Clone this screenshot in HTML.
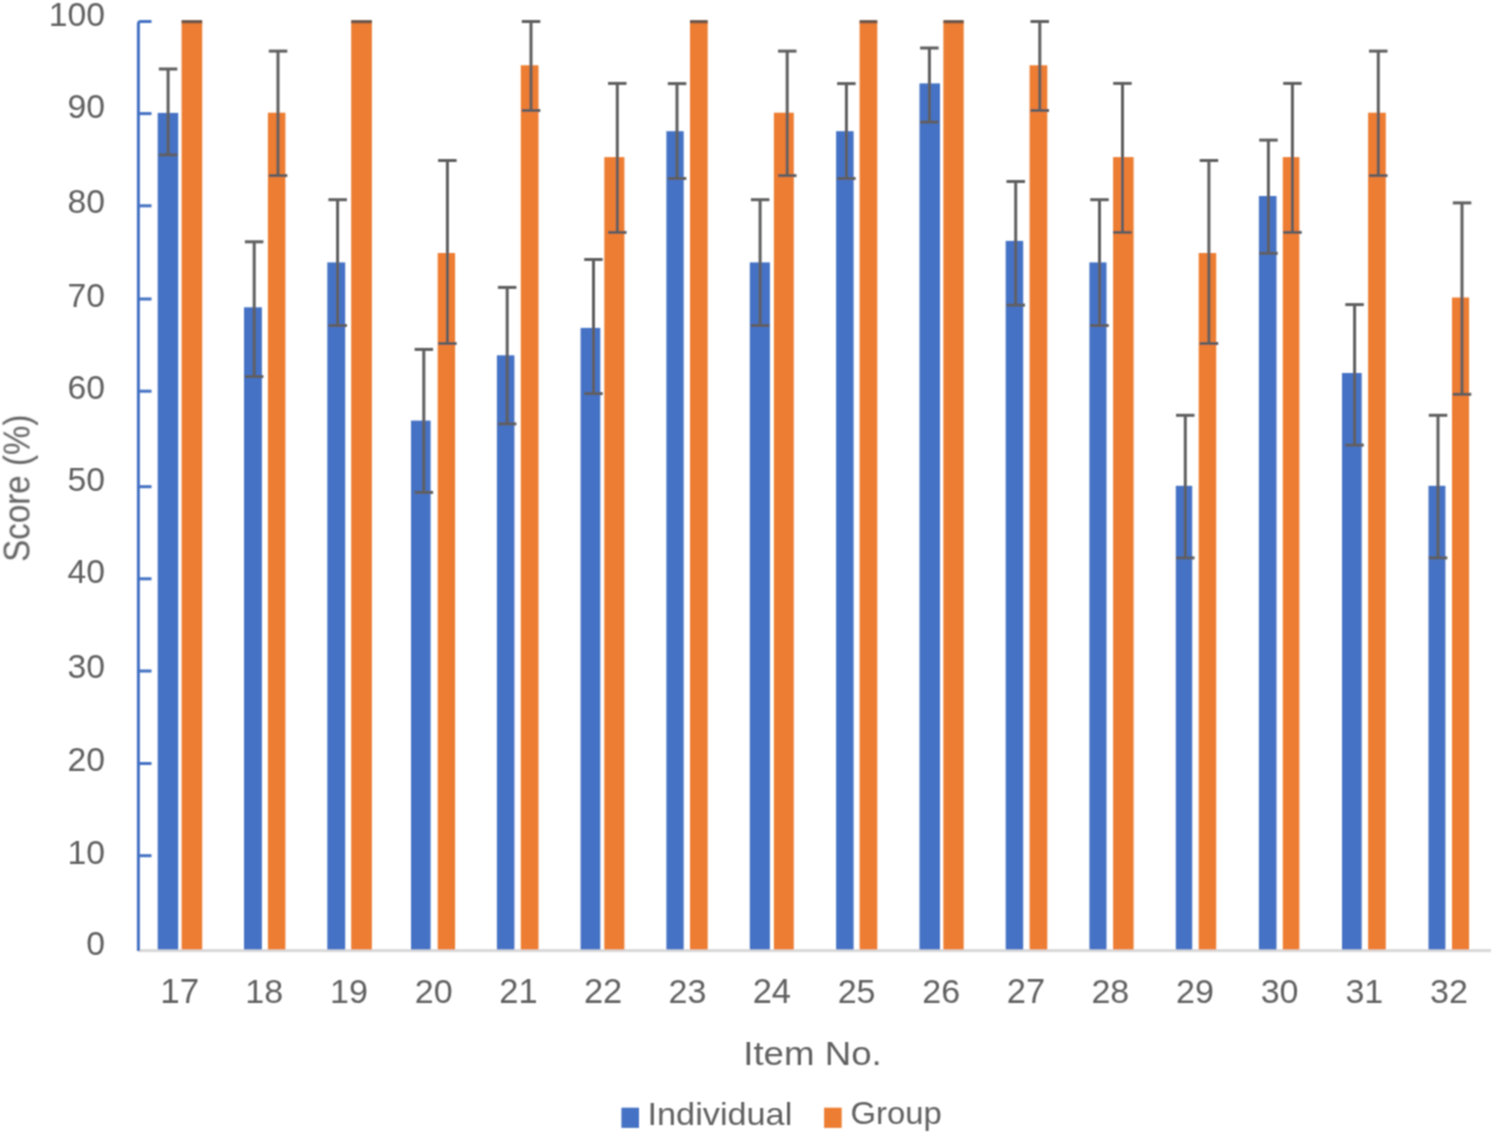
<!DOCTYPE html><html><head><meta charset="utf-8"><style>
html,body{margin:0;padding:0;background:#fff;width:1494px;height:1133px;overflow:hidden}
svg{display:block}text{font-family:"Liberation Sans",sans-serif;fill:#616161}
</style></head><body>
<svg width="1494" height="1133" viewBox="0 0 1494 1133">
<rect width="1494" height="1133" fill="#fff"/>
<defs><filter id="fb" x="-2%" y="-2%" width="104%" height="104%"><feConvolveMatrix order="3" kernelMatrix="1 2 1 2 4 2 1 2 1" divisor="16" edgeMode="none"/></filter><filter id="ft" x="-5%" y="-5%" width="110%" height="110%"><feConvolveMatrix order="3" kernelMatrix="1 2 1 2 4 2 1 2 1" divisor="16" edgeMode="none"/></filter></defs>
<g filter="url(#fb)">
<rect x="138" y="949.1" width="1353" height="3" fill="#D9D9D9"/>
<rect x="157.7" y="112.9" width="20.5" height="836.6" fill="#4472C4"/>
<rect x="181.6" y="21.5" width="20.6" height="928.0" fill="#ED7D31"/>
<rect x="244.0" y="307.3" width="17.9" height="642.2" fill="#4472C4"/>
<rect x="267.9" y="112.7" width="17.5" height="836.8" fill="#ED7D31"/>
<rect x="327.3" y="262.4" width="17.9" height="687.1" fill="#4472C4"/>
<rect x="351.2" y="21.5" width="20.7" height="928.0" fill="#ED7D31"/>
<rect x="411.0" y="420.6" width="19.6" height="528.9" fill="#4472C4"/>
<rect x="437.7" y="253.0" width="17.4" height="696.5" fill="#ED7D31"/>
<rect x="496.9" y="355.3" width="17.5" height="594.2" fill="#4472C4"/>
<rect x="520.8" y="65.3" width="17.7" height="884.2" fill="#ED7D31"/>
<rect x="580.6" y="327.9" width="19.7" height="621.6" fill="#4472C4"/>
<rect x="604.3" y="157.1" width="20.1" height="792.4" fill="#ED7D31"/>
<rect x="666.4" y="131.2" width="17.3" height="818.3" fill="#4472C4"/>
<rect x="690.0" y="21.5" width="17.7" height="928.0" fill="#ED7D31"/>
<rect x="749.8" y="262.4" width="20.1" height="687.1" fill="#4472C4"/>
<rect x="773.9" y="112.7" width="19.9" height="836.8" fill="#ED7D31"/>
<rect x="836.1" y="131.2" width="17.5" height="818.3" fill="#4472C4"/>
<rect x="859.6" y="21.5" width="17.7" height="928.0" fill="#ED7D31"/>
<rect x="919.5" y="83.4" width="20.5" height="866.1" fill="#4472C4"/>
<rect x="943.4" y="21.5" width="20.3" height="928.0" fill="#ED7D31"/>
<rect x="1005.7" y="240.9" width="17.5" height="708.6" fill="#4472C4"/>
<rect x="1029.6" y="65.3" width="17.7" height="884.2" fill="#ED7D31"/>
<rect x="1089.4" y="262.4" width="17.1" height="687.1" fill="#4472C4"/>
<rect x="1113.1" y="157.1" width="20.5" height="792.4" fill="#ED7D31"/>
<rect x="1175.8" y="485.8" width="16.4" height="463.7" fill="#4472C4"/>
<rect x="1198.7" y="253.0" width="17.5" height="696.5" fill="#ED7D31"/>
<rect x="1258.9" y="196.0" width="17.6" height="753.5" fill="#4472C4"/>
<rect x="1282.8" y="157.1" width="16.6" height="792.4" fill="#ED7D31"/>
<rect x="1342.0" y="373.0" width="19.7" height="576.5" fill="#4472C4"/>
<rect x="1368.1" y="112.7" width="17.7" height="836.8" fill="#ED7D31"/>
<rect x="1428.5" y="485.8" width="16.9" height="463.7" fill="#4472C4"/>
<rect x="1452.0" y="297.5" width="17.1" height="652.0" fill="#ED7D31"/>
<rect x="166.6" y="69.0" width="3" height="85.9" fill="#5f5f5f"/><rect x="158.8" y="67.5" width="18.5" height="3" fill="#5f5f5f"/><rect x="158.8" y="153.4" width="18.5" height="3" fill="#5f5f5f"/>
<rect x="181.6" y="20.1" width="20.6" height="3.2" fill="#6a5446"/>
<rect x="252.7" y="241.8" width="3" height="134.8" fill="#5f5f5f"/><rect x="244.9" y="240.3" width="18.5" height="3" fill="#5f5f5f"/><rect x="244.9" y="375.1" width="18.5" height="3" fill="#5f5f5f"/>
<rect x="276.5" y="51.1" width="3" height="124.5" fill="#5f5f5f"/><rect x="268.8" y="49.6" width="18.5" height="3" fill="#5f5f5f"/><rect x="268.8" y="174.1" width="18.5" height="3" fill="#5f5f5f"/>
<rect x="336.1" y="199.7" width="3" height="125.8" fill="#5f5f5f"/><rect x="328.4" y="198.2" width="18.5" height="3" fill="#5f5f5f"/><rect x="328.4" y="324.0" width="18.5" height="3" fill="#5f5f5f"/>
<rect x="351.2" y="20.1" width="20.7" height="3.2" fill="#6a5446"/>
<rect x="422.3" y="349.4" width="3" height="143.0" fill="#5f5f5f"/><rect x="414.6" y="347.9" width="18.5" height="3" fill="#5f5f5f"/><rect x="414.6" y="490.9" width="18.5" height="3" fill="#5f5f5f"/>
<rect x="445.9" y="160.5" width="3" height="183.0" fill="#5f5f5f"/><rect x="438.1" y="159.0" width="18.5" height="3" fill="#5f5f5f"/><rect x="438.1" y="342.0" width="18.5" height="3" fill="#5f5f5f"/>
<rect x="505.7" y="287.4" width="3" height="136.5" fill="#5f5f5f"/><rect x="497.9" y="285.9" width="18.5" height="3" fill="#5f5f5f"/><rect x="497.9" y="422.4" width="18.5" height="3" fill="#5f5f5f"/>
<rect x="529.5" y="21.5" width="3" height="89.0" fill="#5f5f5f"/><rect x="521.8" y="20.0" width="18.5" height="3" fill="#5f5f5f"/><rect x="521.8" y="109.0" width="18.5" height="3" fill="#5f5f5f"/>
<rect x="592.0" y="259.5" width="3" height="134.1" fill="#5f5f5f"/><rect x="584.2" y="258.0" width="18.5" height="3" fill="#5f5f5f"/><rect x="584.2" y="392.1" width="18.5" height="3" fill="#5f5f5f"/>
<rect x="615.8" y="83.4" width="3" height="149.0" fill="#5f5f5f"/><rect x="608.0" y="81.9" width="18.5" height="3" fill="#5f5f5f"/><rect x="608.0" y="230.9" width="18.5" height="3" fill="#5f5f5f"/>
<rect x="675.5" y="83.6" width="3" height="94.9" fill="#5f5f5f"/><rect x="667.8" y="82.1" width="18.5" height="3" fill="#5f5f5f"/><rect x="667.8" y="177.0" width="18.5" height="3" fill="#5f5f5f"/>
<rect x="690.0" y="20.1" width="17.7" height="3.2" fill="#6a5446"/>
<rect x="758.6" y="199.7" width="3" height="125.8" fill="#5f5f5f"/><rect x="750.9" y="198.2" width="18.5" height="3" fill="#5f5f5f"/><rect x="750.9" y="324.0" width="18.5" height="3" fill="#5f5f5f"/>
<rect x="785.7" y="51.1" width="3" height="124.5" fill="#5f5f5f"/><rect x="778.0" y="49.6" width="18.5" height="3" fill="#5f5f5f"/><rect x="778.0" y="174.1" width="18.5" height="3" fill="#5f5f5f"/>
<rect x="844.9" y="83.6" width="3" height="94.9" fill="#5f5f5f"/><rect x="837.1" y="82.1" width="18.5" height="3" fill="#5f5f5f"/><rect x="837.1" y="177.0" width="18.5" height="3" fill="#5f5f5f"/>
<rect x="859.6" y="20.1" width="17.7" height="3.2" fill="#6a5446"/>
<rect x="927.9" y="48.0" width="3" height="74.1" fill="#5f5f5f"/><rect x="920.1" y="46.5" width="18.5" height="3" fill="#5f5f5f"/><rect x="920.1" y="120.6" width="18.5" height="3" fill="#5f5f5f"/>
<rect x="943.4" y="20.1" width="20.3" height="3.2" fill="#6a5446"/>
<rect x="1014.2" y="181.5" width="3" height="123.6" fill="#5f5f5f"/><rect x="1006.5" y="180.0" width="18.5" height="3" fill="#5f5f5f"/><rect x="1006.5" y="303.6" width="18.5" height="3" fill="#5f5f5f"/>
<rect x="1038.3" y="21.5" width="3" height="89.0" fill="#5f5f5f"/><rect x="1030.5" y="20.0" width="18.5" height="3" fill="#5f5f5f"/><rect x="1030.5" y="109.0" width="18.5" height="3" fill="#5f5f5f"/>
<rect x="1098.0" y="199.7" width="3" height="125.8" fill="#5f5f5f"/><rect x="1090.2" y="198.2" width="18.5" height="3" fill="#5f5f5f"/><rect x="1090.2" y="324.0" width="18.5" height="3" fill="#5f5f5f"/>
<rect x="1121.0" y="83.4" width="3" height="149.0" fill="#5f5f5f"/><rect x="1113.2" y="81.9" width="18.5" height="3" fill="#5f5f5f"/><rect x="1113.2" y="230.9" width="18.5" height="3" fill="#5f5f5f"/>
<rect x="1183.8" y="415.3" width="3" height="142.6" fill="#5f5f5f"/><rect x="1176.0" y="413.8" width="18.5" height="3" fill="#5f5f5f"/><rect x="1176.0" y="556.4" width="18.5" height="3" fill="#5f5f5f"/>
<rect x="1207.4" y="160.5" width="3" height="183.0" fill="#5f5f5f"/><rect x="1199.7" y="159.0" width="18.5" height="3" fill="#5f5f5f"/><rect x="1199.7" y="342.0" width="18.5" height="3" fill="#5f5f5f"/>
<rect x="1266.9" y="140.1" width="3" height="113.2" fill="#5f5f5f"/><rect x="1259.2" y="138.6" width="18.5" height="3" fill="#5f5f5f"/><rect x="1259.2" y="251.8" width="18.5" height="3" fill="#5f5f5f"/>
<rect x="1290.9" y="83.4" width="3" height="149.0" fill="#5f5f5f"/><rect x="1283.2" y="81.9" width="18.5" height="3" fill="#5f5f5f"/><rect x="1283.2" y="230.9" width="18.5" height="3" fill="#5f5f5f"/>
<rect x="1353.1" y="304.6" width="3" height="140.5" fill="#5f5f5f"/><rect x="1345.3" y="303.1" width="18.5" height="3" fill="#5f5f5f"/><rect x="1345.3" y="443.6" width="18.5" height="3" fill="#5f5f5f"/>
<rect x="1376.8" y="51.1" width="3" height="124.5" fill="#5f5f5f"/><rect x="1369.0" y="49.6" width="18.5" height="3" fill="#5f5f5f"/><rect x="1369.0" y="174.1" width="18.5" height="3" fill="#5f5f5f"/>
<rect x="1436.5" y="415.3" width="3" height="142.6" fill="#5f5f5f"/><rect x="1428.8" y="413.8" width="18.5" height="3" fill="#5f5f5f"/><rect x="1428.8" y="556.4" width="18.5" height="3" fill="#5f5f5f"/>
<rect x="1460.5" y="202.9" width="3" height="191.4" fill="#5f5f5f"/><rect x="1452.8" y="201.4" width="18.5" height="3" fill="#5f5f5f"/><rect x="1452.8" y="392.8" width="18.5" height="3" fill="#5f5f5f"/>
<path d="M151.5,21.4 H141 Q138.4,21.4 138.4,24 V951" fill="none" stroke="#4472C4" stroke-width="3"/>
<rect x="138" y="854.2" width="13.5" height="3" fill="#4472C4"/>
<rect x="138" y="762.0" width="13.5" height="3" fill="#4472C4"/>
<rect x="138" y="669.5" width="13.5" height="3" fill="#4472C4"/>
<rect x="138" y="577.3" width="13.5" height="3" fill="#4472C4"/>
<rect x="138" y="485.2" width="13.5" height="3" fill="#4472C4"/>
<rect x="138" y="389.7" width="13.5" height="3" fill="#4472C4"/>
<rect x="138" y="297.5" width="13.5" height="3" fill="#4472C4"/>
<rect x="138" y="204.3" width="13.5" height="3" fill="#4472C4"/>
<rect x="138" y="112.1" width="13.5" height="3" fill="#4472C4"/>
<rect x="621.4" y="1107.7" width="17.6" height="20.2" fill="#4472C4"/>
<rect x="824.1" y="1107.7" width="17.6" height="20.2" fill="#ED7D31"/>
</g><g filter="url(#ft)">
<text transform="translate(105.12,25.62) scale(0.9928,0.9928)" font-size="34.00" text-anchor="end">100</text>
<text transform="translate(105.12,118.12) scale(0.9928,0.9928)" font-size="34.00" text-anchor="end">90</text>
<text transform="translate(105.12,213.32) scale(0.9928,0.9928)" font-size="34.00" text-anchor="end">80</text>
<text transform="translate(105.12,306.67) scale(0.9928,0.9928)" font-size="34.00" text-anchor="end">70</text>
<text transform="translate(105.12,399.07) scale(0.9928,0.9928)" font-size="34.00" text-anchor="end">60</text>
<text transform="translate(105.12,490.82) scale(0.9928,0.9928)" font-size="34.00" text-anchor="end">50</text>
<text transform="translate(105.12,583.07) scale(0.9928,0.9928)" font-size="34.00" text-anchor="end">40</text>
<text transform="translate(105.12,678.17) scale(0.9928,0.9928)" font-size="34.00" text-anchor="end">30</text>
<text transform="translate(105.12,771.32) scale(0.9928,0.9928)" font-size="34.00" text-anchor="end">20</text>
<text transform="translate(105.12,863.62) scale(0.9928,0.9928)" font-size="34.00" text-anchor="end">10</text>
<text transform="translate(105.12,955.32) scale(0.9928,0.9928)" font-size="34.00" text-anchor="end">0</text>
<text transform="translate(179.83,1003.40) scale(1.0303,1.0303)" font-size="34.00" text-anchor="middle">17</text>
<text transform="translate(264.28,1003.07) scale(1.0012,1.0012)" font-size="34.00" text-anchor="middle">18</text>
<text transform="translate(348.91,1003.07) scale(1.0012,1.0012)" font-size="34.00" text-anchor="middle">19</text>
<text transform="translate(433.77,1003.07) scale(1.0012,1.0012)" font-size="34.00" text-anchor="middle">20</text>
<text transform="translate(518.49,1003.40) scale(1.0152,1.0152)" font-size="34.00" text-anchor="middle">21</text>
<text transform="translate(603.08,1003.40) scale(1.0152,1.0152)" font-size="34.00" text-anchor="middle">22</text>
<text transform="translate(687.53,1003.07) scale(1.0012,1.0012)" font-size="34.00" text-anchor="middle">23</text>
<text transform="translate(771.84,1003.40) scale(1.0152,1.0152)" font-size="34.00" text-anchor="middle">24</text>
<text transform="translate(856.62,1003.07) scale(1.0012,1.0012)" font-size="34.00" text-anchor="middle">25</text>
<text transform="translate(941.21,1003.07) scale(1.0012,1.0012)" font-size="34.00" text-anchor="middle">26</text>
<text transform="translate(1025.88,1003.40) scale(1.0152,1.0152)" font-size="34.00" text-anchor="middle">27</text>
<text transform="translate(1110.32,1003.07) scale(1.0012,1.0012)" font-size="34.00" text-anchor="middle">28</text>
<text transform="translate(1194.95,1003.07) scale(1.0012,1.0012)" font-size="34.00" text-anchor="middle">29</text>
<text transform="translate(1279.58,1003.07) scale(1.0012,1.0012)" font-size="34.00" text-anchor="middle">30</text>
<text transform="translate(1364.30,1003.07) scale(1.0012,1.0012)" font-size="34.00" text-anchor="middle">31</text>
<text transform="translate(1448.89,1003.07) scale(1.0012,1.0012)" font-size="34.00" text-anchor="middle">32</text>
<text transform="translate(743.21,1064.97) scale(1.0790,0.9906)" font-size="34.00" text-anchor="start">Item No.</text>
<text transform="translate(647.54,1124.69) scale(1.0077,0.9212)" font-size="34.00" text-anchor="start">Individual</text>
<text transform="translate(850.55,1124.01) scale(0.9665,0.9482)" font-size="34.00" text-anchor="start">Group</text>
<text transform="translate(29.59,561.80) rotate(-90) scale(0.9743,1.0955)" font-size="34.00" text-anchor="start">Score (%)</text>
</g>
</svg></body></html>
